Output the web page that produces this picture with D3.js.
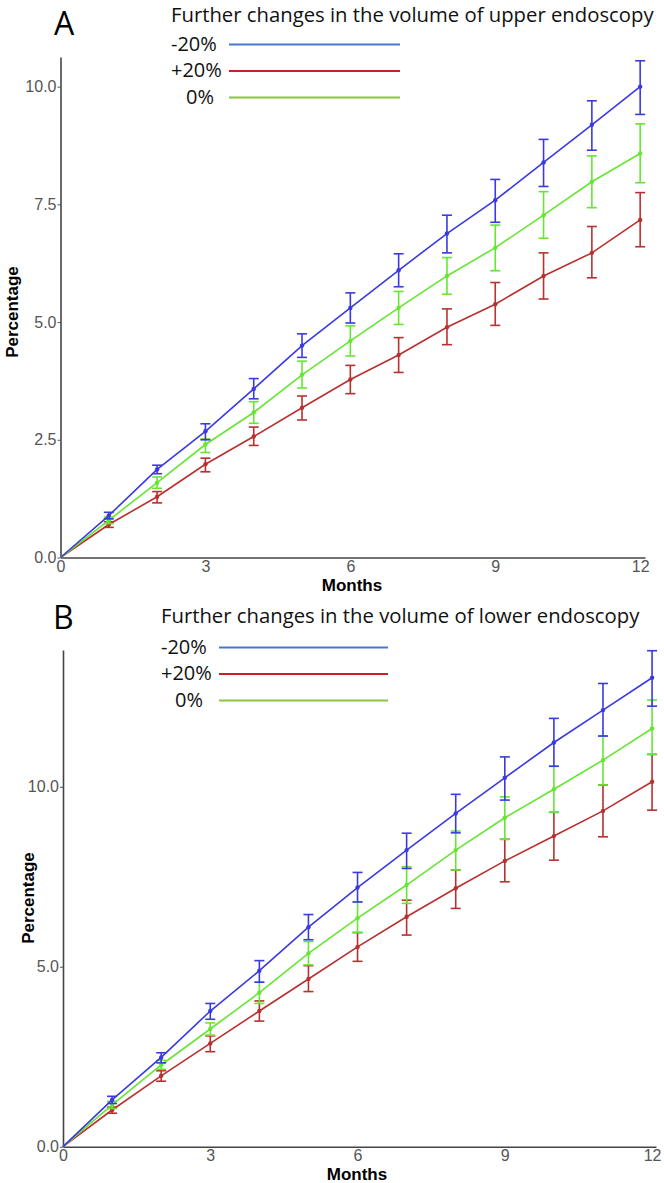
<!DOCTYPE html>
<html><head><meta charset="utf-8">
<script src="https://cdn.jsdelivr.net/npm/d3@7"></script>
<style>body{margin:0;background:#fff}</style></head>
<body><svg id="c" width="664" height="1183"></svg>
<script>
const months = [0,1,2,3,4,5,6,7,8,9,10,11,12];
const xTicks = [0,3,6,9,12];
const yTicksA = [0,2.5,5,7.5,10];
const yTicksB = [0,5,10];
const legendLabels = ["-20%","+20%","0%"];

// Panel A: upper endoscopy
const upperM20 = [0,0.89,1.87,2.68,3.58,4.50,5.30,6.10,6.88,7.59,8.39,9.19,10.00];
const upperM20Lo = [0,0.82,1.78,2.50,3.37,4.25,4.98,5.75,6.47,7.12,7.88,8.65,9.41];
const upperM20Hi = [0,0.96,1.96,2.84,3.80,4.75,5.62,6.45,7.27,8.03,8.88,9.70,10.55];
const upperP20 = [0,0.70,1.29,1.98,2.57,3.18,3.78,4.30,4.89,5.38,5.98,6.47,7.17];
const upperP20Lo = [0,0.64,1.16,1.82,2.38,2.92,3.48,3.93,4.52,4.93,5.49,5.94,6.60];
const upperP20Hi = [0,0.76,1.40,2.11,2.77,3.43,4.08,4.67,5.28,5.84,6.47,7.03,7.75];
const upper0 = [0,0.79,1.59,2.40,3.08,3.88,4.60,5.30,5.98,6.58,7.27,7.98,8.58];
const upper0Lo = [0,0.72,1.47,2.23,2.85,3.60,4.28,4.95,5.59,6.09,6.78,7.43,7.96];
const upper0Hi = [0,0.86,1.71,2.52,3.31,4.17,4.92,5.65,6.37,7.06,7.77,8.53,9.21];

// Panel B: lower endoscopy
const lowerM20 = [0,1.30,2.48,3.77,4.89,6.10,7.20,8.24,9.26,10.25,11.23,12.13,13.03];
const lowerM20Lo = [0,1.20,2.33,3.54,4.57,5.75,6.80,7.73,8.72,9.63,10.57,11.41,12.24];
const lowerM20Hi = [0,1.40,2.61,3.98,5.17,6.45,7.62,8.71,9.79,10.83,11.90,12.87,13.78];
const lowerP20 = [0,1.02,1.97,2.87,3.77,4.66,5.55,6.39,7.18,7.94,8.63,9.33,10.14];
const lowerP20Lo = [0,0.93,1.82,2.64,3.49,4.31,5.15,5.88,6.62,7.36,7.96,8.61,9.35];
const lowerP20Hi = [0,1.10,2.11,3.08,4.05,5.03,5.95,6.85,7.69,8.54,9.29,10.05,10.90];
const lower0 = [0,1.16,2.27,3.27,4.28,5.37,6.35,7.27,8.24,9.14,9.93,10.74,11.62];
const lower0Lo = [0,1.06,2.15,3.10,3.98,5.05,5.95,6.76,7.69,8.54,9.29,10.05,10.90];
const lower0Hi = [0,1.26,2.40,3.44,4.57,5.70,6.80,7.78,8.77,9.72,10.57,11.41,12.41];

const lineColors = {m20:"#3a3ae0", p20:"#b83030", z:"#66e633"};
const legendColors = {m20:"#4a78c8", p20:"#c8202a", z:"#8cc63a"};

const svg = d3.select("#c");
const sans = "Liberation Sans, Arial, sans-serif";
const legFont = "Open Sans, sans-serif";

function panel(cfg){
  const g = svg.append("g");
  const x = d3.scaleLinear().domain(cfg.xDom).range(cfg.xRange);
  const y = d3.scaleLinear().domain(cfg.yDom).range(cfg.yRange);

  const ya = g.append("g").attr("transform",`translate(${cfg.xRange[0]},0)`)
    .call(d3.axisLeft(y).tickValues(cfg.yTicks).tickFormat(d3.format(".1f")).tickSize(3).tickSizeOuter(0));
  ya.select(".domain").attr("stroke","#444").attr("stroke-width",1.6);
  ya.selectAll(".tick line").attr("stroke","#555");
  ya.selectAll(".tick text").attr("fill","#555").attr("font-size",16).attr("font-family",sans).attr("x",-4);

  const xa = g.append("g").attr("transform",`translate(0,${cfg.yRange[0]})`)
    .call(d3.axisBottom(x).tickValues(xTicks).tickFormat(d3.format("d")).tickSize(0).tickSizeOuter(0));
  xa.select(".domain").attr("stroke","#444").attr("stroke-width",1.6);
  xa.selectAll(".tick text").attr("fill","#555").attr("font-size",16).attr("font-family",sans).attr("dy","0.85em").attr("y",1);

  g.append("text").attr("x",cfg.monthsX).attr("y",cfg.yRange[0]+33)
    .attr("text-anchor","middle").attr("font-weight","bold").attr("font-size",17)
    .attr("font-family",sans).text("Months");
  g.append("text").attr("transform",`translate(${cfg.yLabX},${cfg.yLabY}) rotate(-90)`)
    .attr("text-anchor","middle").attr("font-weight","bold").attr("font-size",17)
    .attr("font-family",sans).text("Percentage");

  const line = d3.line().x((d,i)=>x(months[i])).y(d=>y(d));
  cfg.series.forEach(s=>{
    const sg = g.append("g");
    sg.append("path").attr("d",line(s.v)).attr("fill","none").attr("stroke",s.c).attr("stroke-width",1.6);
    months.filter(m=>m>0).forEach(m=>{
      const xx = x(m);
      sg.append("line").attr("x1",xx).attr("x2",xx).attr("y1",y(s.lo[m])).attr("y2",y(s.hi[m])).attr("stroke",s.c).attr("stroke-width",1.6);
      [s.lo[m],s.hi[m]].forEach(v=>{
        sg.append("line").attr("x1",xx-5).attr("x2",xx+5).attr("y1",y(v)).attr("y2",y(v)).attr("stroke",s.c).attr("stroke-width",1.6);
      });
      sg.append("circle").attr("cx",xx).attr("cy",y(s.v[m])).attr("r",2.2).attr("fill",s.c);
    });
  });

  g.append("text").attr("x",cfg.letterX).attr("y",cfg.letterY).attr("font-size",32)
    .attr("font-family",legFont).text(cfg.letter);
  g.append("text").attr("x",cfg.titleX).attr("y",cfg.titleY).attr("font-size",20.3)
    .attr("font-family",legFont).attr("fill","#111").text(cfg.title);
  ["m20","p20","z"].forEach((k,i)=>{
    const yy = cfg.legY + i*26.5;
    g.append("text").attr("x",cfg.legTextX[i]).attr("y",yy+6).attr("font-size",20)
      .attr("font-family",legFont).attr("fill","#111").text(legendLabels[i]);
    g.append("line").attr("x1",cfg.legLine[0]).attr("x2",cfg.legLine[1]).attr("y1",yy).attr("y2",yy)
      .attr("stroke",legendColors[k]).attr("stroke-width",2);
  });
}

panel({
  xDom:[0,12.1], xRange:[60.5,645], yDom:[0,10.63], yRange:[557.5,57], yTicks:yTicksA,
  yLabX:18, yLabY:312, monthsX:352, letter:"A", letterX:54, letterY:35,
  title:"Further changes in the volume of upper endoscopy", titleX:171, titleY:22,
  legY:44.5, legTextX:[171,171,186], legLine:[229,400],
  series:[
    {v:upperP20, lo:upperP20Lo, hi:upperP20Hi, c:lineColors.p20},
    {v:upper0, lo:upper0Lo, hi:upper0Hi, c:lineColors.z},
    {v:upperM20, lo:upperM20Lo, hi:upperM20Hi, c:lineColors.m20}
  ]
});
panel({
  xDom:[0,12.08], xRange:[63,656], yDom:[0,13.8], yRange:[1146.7,650], yTicks:yTicksB,
  yLabX:34, yLabY:898, monthsX:357, letter:"B", letterX:53, letterY:629,
  title:"Further changes in the volume of lower endoscopy", titleX:161, titleY:623,
  legY:647.5, legTextX:[161,161,175], legLine:[219,388],
  series:[
    {v:lowerP20, lo:lowerP20Lo, hi:lowerP20Hi, c:lineColors.p20},
    {v:lower0, lo:lower0Lo, hi:lower0Hi, c:lineColors.z},
    {v:lowerM20, lo:lowerM20Lo, hi:lowerM20Hi, c:lineColors.m20}
  ]
});
</script></body></html>
